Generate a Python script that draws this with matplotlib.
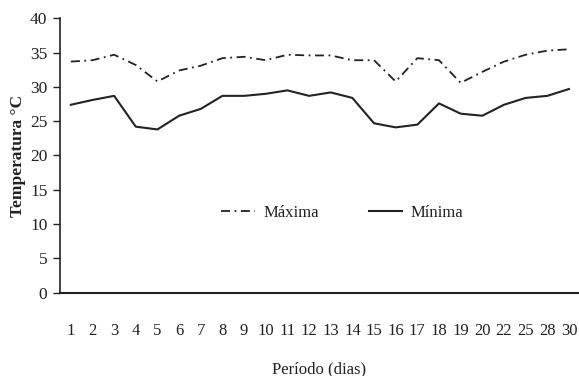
import numpy as np
import matplotlib
matplotlib.use("Agg")
import matplotlib.pyplot as plt

# categorias do eixo x (dias)
dias = ["1", "2", "3", "4", "5", "6", "7", "8", "9", "10", "11", "12",
        "13", "14", "15", "16", "17", "18", "19", "20", "22", "25", "28", "30"]

# temperaturas
t_max = [33.7, 33.9, 34.7, 33.2, 30.8, 32.4, 33.1, 34.2, 34.4, 33.9, 34.7, 34.6,
         34.6, 33.9, 33.9, 30.8, 34.2, 33.9, 30.6, 32.2, 33.7, 34.7, 35.3, 35.5]
t_min = [27.4, 28.1, 28.7, 24.2, 23.8, 25.8, 26.8, 28.7, 28.7, 29.0, 29.5, 28.7,
         29.2, 28.4, 24.7, 24.1, 24.5, 27.6, 26.1, 25.8, 27.4, 28.4, 28.7, 29.7]

y_ticks = [0, 5, 10, 15, 20, 25, 30, 35, 40]

plt.rcParams['font.family'] = ['Liberation Serif', 'DejaVu Serif']

fig = plt.figure(figsize=(5.79, 3.76), dpi=100)
ax = fig.add_axes([0.1036, 0.222, 0.894, 0.729])

x = np.arange(len(dias))
ax.plot(x, t_max, color='#222222', linestyle=(0, (5, 2.5, 1, 2.5)), linewidth=1.3, label='Máxima')
ax.plot(x, t_min, color='#222222', linestyle='-', linewidth=1.5, label='Mínima')

ax.set_xlim(-0.5, 23.4)
ax.set_ylim(0, 40)
ax.set_yticks(y_ticks)
ax.set_xticks(x)
ax.set_xticklabels(dias)

ax.spines['top'].set_visible(False)
ax.spines['right'].set_visible(False)
ax.spines['left'].set_linewidth(1.2)
ax.spines['bottom'].set_linewidth(1.5)
ax.spines['left'].set_color('#222222')
ax.spines['bottom'].set_color('#222222')

ax.tick_params(axis='y', direction='out', length=5, width=1, labelsize=12.5, pad=4, colors='#222222')
ax.tick_params(axis='x', length=0, labelsize=12, pad=22, colors='#222222')

ax.set_ylabel('Temperatura °C', fontsize=12.5, fontweight='bold', color='#222222', labelpad=3)
ax.set_xlabel('Período (dias)', fontsize=12, color='#222222', labelpad=16)

leg = ax.legend(loc='center', bbox_to_anchor=(0.545, 0.29), ncol=2, frameon=False,
                fontsize=12, handlelength=2.0, columnspacing=3.0, handletextpad=0.5)
for t in leg.get_texts():
    t.set_color('#222222')

fig.savefig('out.png', dpi=100)
